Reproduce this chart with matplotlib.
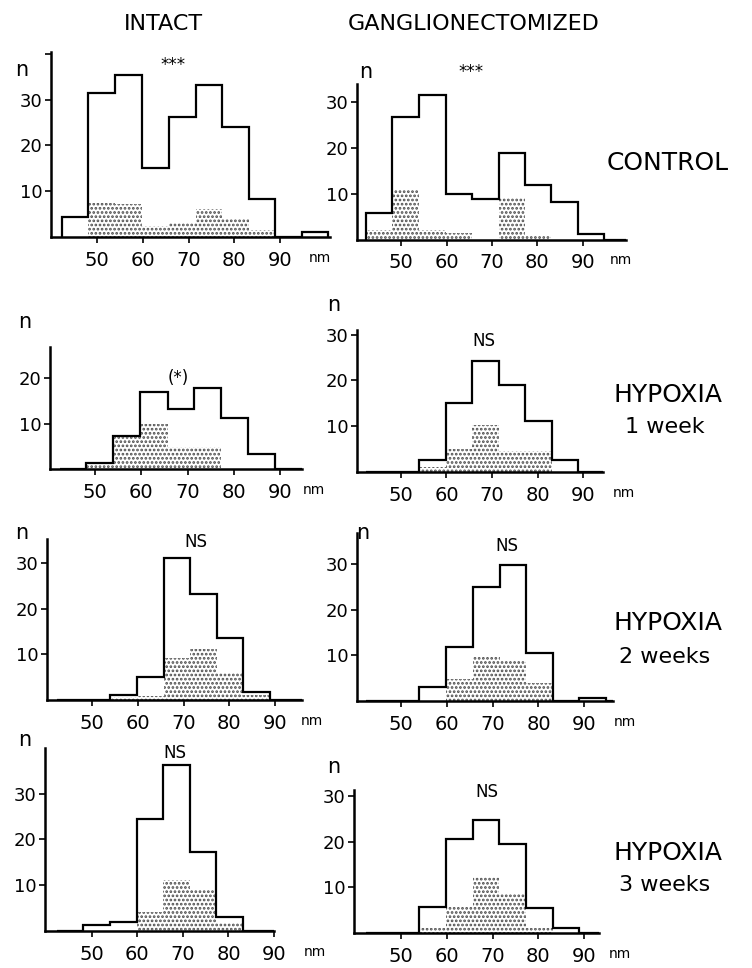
import matplotlib
matplotlib.use("Agg")
import matplotlib.pyplot as plt
import numpy as np

plt.rcParams['font.family'] = ['DejaVu Sans']
plt.rcParams['hatch.linewidth'] = 1.3

W, H = 752, 968

# bin edges (nm), common to all panels
edges = [42.3, 48.1, 53.9, 59.8, 65.7, 71.5, 77.3, 83.1, 88.9, 94.7, 100.5]

# total counts (outline) and shaded counts, one pair per panel
intact_control = [4.3, 31.5, 35.3, 15.1, 26.1, 33.2, 24.1, 8.3, 0, 1.0]
intact_control_sh = [0, 7.5, 7.3, 2.4, 3.1, 6.2, 4.1, 1.6, 0, 0]
gang_control = [5.9, 26.7, 31.7, 10.0, 8.8, 19.0, 11.9, 8.1, 1.1, 0]
gang_control_sh = [2.0, 11.0, 2.0, 1.4, 0, 9.0, 0.8, 0, 0, 0]

intact_1w = [0, 1.4, 7.3, 16.8, 13.2, 17.7, 11.3, 3.3, 0, 0]
intact_1w_sh = [0, 1.2, 7.3, 10.0, 4.9, 4.9, 0, 0, 0, 0]
gang_1w = [0, 0, 2.6, 15.0, 24.2, 19.1, 11.1, 2.6, 0, 0]
gang_1w_sh = [0, 0, 1.0, 5.1, 10.3, 4.6, 4.5, 0, 0, 0]

intact_2w = [0, 0, 1.0, 5.0, 31.0, 23.1, 13.5, 1.8, 0, 0]
intact_2w_sh = [0, 0, 0.7, 0.9, 9.2, 11.2, 6.0, 1.1, 0, 0]
gang_2w = [0, 0, 3.0, 11.9, 25.0, 29.8, 10.6, 0, 0.6, 0]
gang_2w_sh = [0, 0, 0, 4.8, 9.9, 8.8, 3.9, 0, 0, 0]

intact_3w = [0, 1.3, 2.0, 24.4, 36.2, 17.2, 3.1, 0, 0, 0]
intact_3w_sh = [0, 0, 0, 4.2, 11.2, 9.1, 1.6, 0, 0, 0]
gang_3w = [0, 0, 5.6, 20.6, 24.7, 19.5, 5.5, 1.0, 0, 0]
gang_3w_sh = [0, 0, 1.0, 6.0, 12.2, 8.8, 1.2, 0, 0, 0]

x_ticks = [50, 60, 70, 80, 90]
col_titles = ['INTACT', 'GANGLIONECTOMIZED']
row_titles = [('CONTROL', ''), ('HYPOXIA', '1 week'), ('HYPOXIA', '2 weeks'), ('HYPOXIA', '3 weeks')]
stats = ['***', '***', '(*)', 'NS', 'NS', 'NS', 'NS', 'NS']

# panel placement in pixels: left, right, baseline, top, xlim, ymax, yticks
panels = [
    (intact_control, intact_control_sh, 50.5, 330, 237, 52, (39.8, 100.9), 40.4, [10, 20, 30, 40]),
    (gang_control, gang_control_sh, 357, 626, 239.5, 84, (40.3, 99.5), 34, [10, 20, 30]),
    (intact_1w, intact_1w_sh, 50, 302, 469.3, 346.7, (40.2, 94.8), 26.8, [10, 20]),
    (gang_1w, gang_1w_sh, 356.7, 602.7, 472, 330, (40.3, 94.3), 31, [10, 20, 30]),
    (intact_2w, intact_2w_sh, 47, 302, 700, 539, (40.15, 95.9), 35.2, [10, 20, 30]),
    (gang_2w, gang_2w_sh, 357, 613, 701, 533, (40.3, 96.3), 36.8, [10, 20, 30]),
    (intact_3w, intact_3w_sh, 45, 274, 930.7, 748, (39.7, 89.8), 40, [10, 20, 30]),
    (gang_3w, gang_3w_sh, 354, 598.7, 933, 790, (39.7, 93.2), 31.3, [10, 20, 30]),
]
stat_pos = [(66.6, 37.6), (65.4, 36.6), (68, 20), (68.2, 28.7),
            (72.6, 34.6), (73, 34), (68.2, 38.9), (68.7, 30.9)]
nm_x = [98.7, 98.4, 97.4, 99, 98, 99, 99, 97.9]
n_pos = [(22, 70), (366, 72), (25, 322), (334, 305), (22, 533), (363, 533), (25, 740), (334, 767)]

fig = plt.figure(figsize=(W / 100, H / 100), dpi=100)

widths = np.diff(edges)
for i, (tot, sh, l, r, b, t, xl, ymax, yt) in enumerate(panels):
    ax = fig.add_axes([l / W, 1 - b / H, (r - l) / W, (b - t) / H])
    ax.bar(edges[:-1], sh, width=widths, align='edge', color='none',
           edgecolor='0.3', hatch='....', linewidth=0)
    ax.stairs(tot, edges, baseline=0, color='black', linewidth=1.6)
    ax.set_xlim(*xl)
    ax.set_ylim(0, ymax)
    ax.set_xticks(x_ticks)
    ax.set_xticklabels([str(v) for v in x_ticks], fontsize=14)
    ax.set_yticks(yt)
    ax.set_yticklabels([str(v) if v < 40 else '' for v in yt], fontsize=13)
    ax.tick_params(axis='x', length=4, width=1.2, pad=6)
    ax.tick_params(axis='y', length=4, width=1.2, pad=2)
    for s in ['top', 'right']:
        ax.spines[s].set_visible(False)
    for s in ['left', 'bottom']:
        ax.spines[s].set_linewidth(1.8)
    ax.text(stat_pos[i][0], stat_pos[i][1], stats[i], ha='center', va='center', fontsize=12)
    ax.annotate('nm', xy=(nm_x[i], 0), xycoords=('data', 'axes fraction'),
                xytext=(0, -15), textcoords='offset points',
                ha='center', va='center', fontsize=10, annotation_clip=False)
    fig.text(n_pos[i][0] / W, 1 - n_pos[i][1] / H, 'n', ha='center', va='center', fontsize=15)

fig.text(163 / W, 1 - 24 / H, col_titles[0], ha='center', va='center', fontsize=16)
fig.text(474 / W, 1 - 24 / H, col_titles[1], ha='center', va='center', fontsize=16)

row_y = [(163, None), (395, 427), (623, 657), (853, 885)]
for (t1, t2), (y1, y2) in zip(row_titles, row_y):
    fig.text(668 / W, 1 - y1 / H, t1, ha='center', va='center', fontsize=18)
    if t2:
        fig.text(665 / W, 1 - y2 / H, t2, ha='center', va='center', fontsize=16)

fig.savefig('out.png', dpi=100)
